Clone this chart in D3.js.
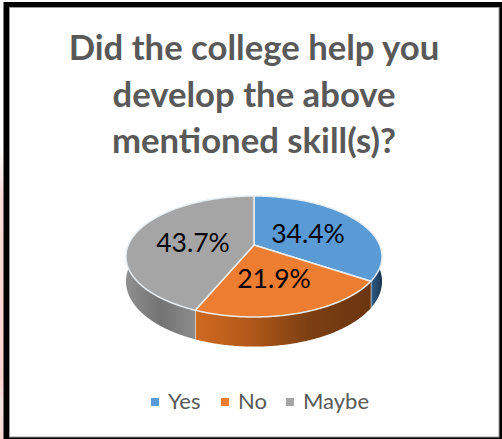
<!DOCTYPE html>
<html>
<head>
<meta charset="utf-8">
<style>
  html, body { margin: 0; padding: 0; background: #fff; }
  svg { display: block; }
  text { font-family: Lato, "Open Sans", sans-serif; }
</style>
<script src="https://cdn.jsdelivr.net/npm/d3@7/dist/d3.min.js"></script>
</head>
<body>
<script>
const categories = ["Yes", "No", "Maybe"];
const shares = [34.4, 21.9, 43.7];
const topColours = ["#5b9bd5", "#ed7d31", "#a5a5a5"];
const titleLines = ["Did the college help you", "develop the above", "mentioned skill(s)?"];

const width = 502, height = 439;
const svg = d3.select("body").append("svg").attr("width", width).attr("height", height);
const defs = svg.append("defs");

// Page backdrop and the heavy frame around the chart
const tint = defs.append("linearGradient").attr("id", "edgeTint").attr("x1", 0).attr("x2", 0).attr("y1", 0).attr("y2", 1);
[[0, "#ffffff"], [0.33, "#ffffff"], [0.45, "#fbdcd8"], [0.86, "#fdd5d0"], [0.92, "#f3e4e0"], [1, "#fbd8d4"]]
  .forEach(([o, c]) => tint.append("stop").attr("offset", o).attr("stop-color", c));
svg.append("rect").attr("x", 0).attr("y", 0).attr("width", 4).attr("height", height).attr("fill", "url(#edgeTint)");
svg.append("rect").attr("x", 3.5).attr("y", 2).attr("width", width - 3.5).attr("height", height - 2).attr("fill", "#000");
svg.append("rect").attr("x", 9.5).attr("y", 7.5).attr("width", 489.5).attr("height", 429.5)
  .attr("fill", "#fff").attr("stroke", "#9a9a9a").attr("stroke-width", 1);

// Title
svg.append("g").selectAll("text").data(titleLines).join("text")
  .attr("x", 254).attr("y", (d, i) => 60 + i * 46.5)
  .attr("text-anchor", "middle").attr("font-size", 34.7).attr("font-weight", 700)
  .attr("fill", "#595959").text(d => d);

// Tilted pie: a perspective map from the unit disc onto the screen
const cx = 254, cy = 245, ax = 125.7, by = 58.3, k = 0.19, depth = 24;
const project = (angle, r = 1) => {
  const u = r * Math.sin(angle), v = -r * Math.cos(angle), w = 1 - k * v;
  return { x: cx + ax * u / w, y: cy + by * v / w, drop: depth / w };
};
const arcs = d3.pie().sort(null).value(d => d)(shares);
const arcPoints = (a0, a1) => d3.range(0, 121).map(i => a0 + (a1 - a0) * i / 120);
const line = d3.line().x(d => d[0]).y(d => d[1]);

// Shading of the side wall, running left to right across each slice
const wallStops = [
  [[0, "#2f5f8c"], [1, "#1b3550"]],
  [[0, "#cf6a20"], [0.3, "#b4591a"], [0.65, "#7c3f12"], [1, "#6a3510"]],
  [[0, "#8f8f8f"], [0.5, "#737373"], [1, "#8c8c8c"]]
];
wallStops.forEach((stops, i) => {
  const g = defs.append("linearGradient").attr("id", "wall" + i);
  stops.forEach(([o, c]) => g.append("stop").attr("offset", o).attr("stop-color", c));
});

// Side walls exist only where the rim faces the viewer
const wallArcs = arcs.map(a => ({
  ...a,
  from: Math.max(a.startAngle, Math.PI / 2 - 0.05),
  to: Math.min(a.endAngle, 3 * Math.PI / 2 + 0.05)
}));
const walls = svg.append("g");
wallArcs.forEach((a, i) => {
  if (a.to <= a.from) return;
  const pts = arcPoints(a.from, a.to).map(t => project(t));
  const ring = pts.map(p => [p.x, p.y]).concat(pts.slice().reverse().map(p => [p.x, p.y + p.drop]));
  walls.append("path").attr("d", line(ring) + "Z").attr("fill", `url(#wall${i})`);
  const end = pts[pts.length - 1];
  if (i < arcs.length - 1) {
    walls.append("path").attr("d", line([[end.x, end.y], [end.x, end.y + end.drop]]))
      .attr("stroke", "#e9e2dc").attr("stroke-width", 1.4).attr("fill", "none");
  }
});

// Top face of each slice, with its pale bevelled edge
const slicePath = a => {
  const rim = arcPoints(a.startAngle, a.endAngle).map(t => project(t));
  return line([[cx, cy]].concat(rim.map(p => [p.x, p.y]))) + "Z";
};
svg.append("g").selectAll("path").data(arcs).join("path")
  .attr("d", slicePath)
  .attr("fill", (d, i) => topColours[i])
  .attr("stroke", "#e8eef2").attr("stroke-width", 1.5).attr("stroke-linejoin", "round");

// Percentage labels, placed by radius and by fraction along each slice
const labelPlace = [[0.496, 0.52], [0.531, 0.513], [0.493, 0.466]];
const labelPoint = (d, i) => project(d.startAngle + (d.endAngle - d.startAngle) * labelPlace[i][1], labelPlace[i][0]);
svg.append("g").selectAll("text").data(arcs).join("text")
  .attr("x", (d, i) => labelPoint(d, i).x)
  .attr("y", (d, i) => labelPoint(d, i).y)
  .attr("dy", "0.36em").attr("text-anchor", "middle").attr("font-size", 26.5).attr("fill", "#000")
  .text(d => d.data.toFixed(1) + "%");

// Legend
const legendX = d3.scaleOrdinal().domain(categories).range([151, 221, 286]);
const legend = svg.append("g").selectAll("g").data(categories).join("g")
  .attr("transform", d => `translate(${legendX(d)},398)`);
legend.append("rect").attr("width", 8).attr("height", 8).attr("fill", (d, i) => topColours[i]);
legend.append("text").attr("x", 17).attr("y", 11).attr("font-size", 22).attr("fill", "#595959").text(d => d);
</script>
</body>
</html>
